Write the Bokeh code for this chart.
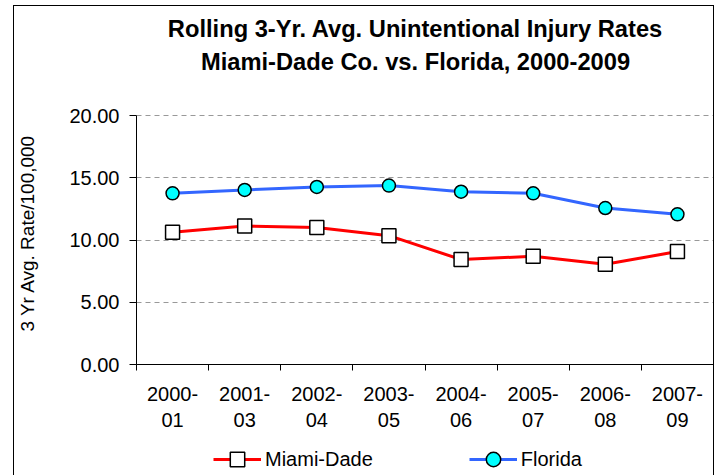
from bokeh.plotting import figure
from bokeh.layouts import column
from bokeh.models import Range1d, FixedTicker, Label, Legend, LegendItem, NumeralTickFormatter
from bokeh.embed import file_html
from bokeh.resources import INLINE

periods = ["2000-\n01", "2001-\n03", "2002-\n04", "2003-\n05", "2004-\n06", "2005-\n07", "2006-\n08", "2007-\n09"]
miami_dade = [10.62, 11.13, 11.00, 10.35, 8.43, 8.69, 8.05, 9.07]
florida = [13.75, 14.02, 14.26, 14.37, 13.88, 13.75, 12.57, 12.06]
y_ticks = [0, 5, 10, 15, 20]
title_lines = ["Rolling 3-Yr. Avg. Unintentional Injury Rates", "Miami-Dade Co. vs. Florida, 2000-2009"]
y_title = "3 Yr Avg. Rate/100,000"
series_names = ["Miami-Dade", "Florida"]

FONT = "Liberation Sans"
RED, BLUE, CYAN = "#FF0000", "#3366FF", "#00FFFF"
xs = [i + 0.5 for i in range(len(periods))]

# frame runs from the top of the figure down to the x axis; the value axis covers 0-20
# and the space above 20 holds the two title lines
FRAME_H = 358
AXIS_PX = 249
y_top = 20 * FRAME_H / AXIS_PX

p = figure(width=699, height=428, output_backend="svg", toolbar_location=None,
           x_range=Range1d(0, len(periods)), y_range=Range1d(0, y_top),
           min_border_left=122, min_border_right=0, min_border_top=0, min_border_bottom=70)
p.outline_line_color = None
p.background_fill_color = "white"

# x axis
p.xaxis.ticker = FixedTicker(ticks=xs, minor_ticks=list(range(len(periods) + 1)))
p.xaxis.major_label_overrides = {x: lab for x, lab in zip(xs, periods)}
p.xaxis.major_tick_line_color = None
p.xaxis.major_tick_out = 0
p.xaxis.major_tick_in = 0
p.xaxis.minor_tick_line_color = "black"
p.xaxis.minor_tick_out = 6
p.xaxis.minor_tick_in = 0
p.xaxis.axis_line_color = "black"
p.xaxis.major_label_text_font = FONT
p.xaxis.major_label_text_font_size = "20px"
p.xaxis.major_label_text_color = "black"
p.xaxis.major_label_standoff = 12
p.xgrid.grid_line_color = None

# y axis (label padded with no-break spaces so it centres on the 0-20 part)
p.yaxis.ticker = FixedTicker(ticks=y_ticks, minor_ticks=[])
p.yaxis.bounds = (min(y_ticks), max(y_ticks))
p.yaxis.formatter = NumeralTickFormatter(format="0.00")
p.yaxis.major_tick_out = 7
p.yaxis.major_tick_in = 0
p.yaxis.minor_tick_line_color = None
p.yaxis.axis_line_color = "black"
p.yaxis.major_label_text_font = FONT
p.yaxis.major_label_text_font_size = "20px"
p.yaxis.major_label_text_color = "black"
p.yaxis.major_label_standoff = 10
p.yaxis.axis_label = y_title + "\u00a0" * 18
p.yaxis.axis_label_text_font = FONT
p.yaxis.axis_label_text_font_size = "19px"
p.yaxis.axis_label_text_font_style = "normal"
p.yaxis.axis_label_text_color = "black"
p.yaxis.axis_label_standoff = 28
p.ygrid.grid_line_color = "#999999"
p.ygrid.grid_line_dash = "5 4"
p.ygrid.grid_line_width = 1

# series
p.line(xs, miami_dade, line_color=RED, line_width=3)
p.scatter(xs, miami_dade, marker="square", size=14, fill_color="white", line_color="black", line_width=1.5)
p.line(xs, florida, line_color=BLUE, line_width=3)
p.scatter(xs, florida, marker="circle", size=13, fill_color=CYAN, line_color="black", line_width=1.5)

# title lines (screen px measured up from the x axis)
for txt, dy in zip(title_lines, [336, 303]):
    p.add_layout(Label(x=279, y=dy, x_units="screen", y_units="screen", text=txt,
                       text_font=FONT, text_font_size="23.7px", text_font_style="bold",
                       text_align="center", text_baseline="middle", text_color="black"))

# legend strip under the chart: same series drawn outside its visible range, used only for the key
q = figure(width=699, height=45, output_backend="svg", toolbar_location=None,
           x_axis_type=None, y_axis_type=None, min_border=0,
           x_range=Range1d(0, len(periods)), y_range=Range1d(-2, -1))
q.outline_line_color = None
q.xgrid.grid_line_color = None
q.ygrid.grid_line_color = None
k1 = q.line(xs, miami_dade, line_color=RED, line_width=3)
m1 = q.scatter(xs, miami_dade, marker="square", fill_color="white", line_color="black", line_width=1.5)
k2 = q.line(xs, florida, line_color=BLUE, line_width=3)
m2 = q.scatter(xs, florida, marker="circle", fill_color=CYAN, line_color="black", line_width=1.5)
legend = Legend(items=[LegendItem(label=series_names[0], renderers=[k1, m1]),
                       LegendItem(label=series_names[1], renderers=[k2, m2])],
                location=(77, 2), orientation="horizontal", border_line_color=None,
                background_fill_alpha=0, padding=0, margin=0, spacing=96,
                glyph_width=48, glyph_height=36, label_standoff=4,
                label_text_font=FONT, label_text_font_size="20px", label_text_color="black")
q.add_layout(legend, "center")

layout = column(p, q, spacing=0)
layout.styles = {"border-top": "1px solid black", "border-left": "1px solid black",
                 "border-right": "1px solid black", "margin-left": "13px", "margin-top": "5px"}

open("out.html", "w").write(file_html(layout, INLINE))
